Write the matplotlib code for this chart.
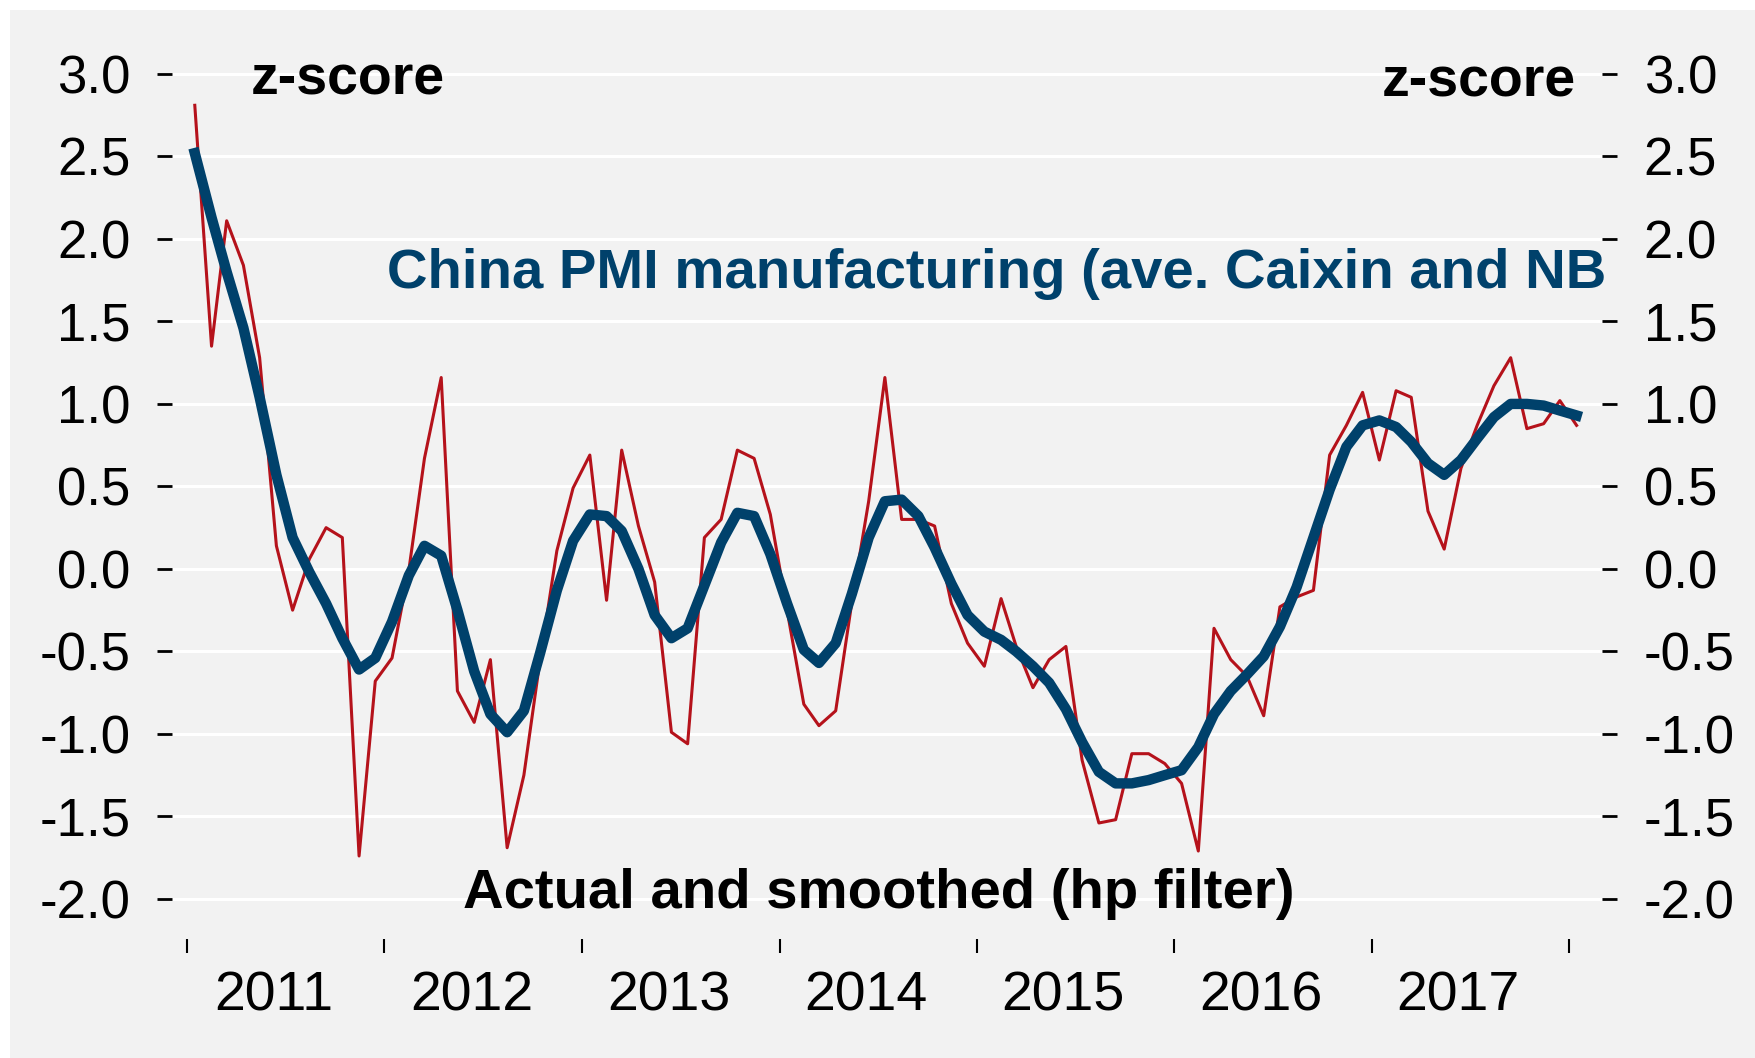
import matplotlib
matplotlib.use('Agg')
import matplotlib.pyplot as plt
import matplotlib.dates as mdates
from matplotlib.patches import Rectangle
from matplotlib.ticker import FixedLocator, FormatStrFormatter, NullFormatter
import pandas as pd

plt.rcParams['font.family'] = ['Liberation Sans', 'DejaVu Sans']
plt.rcParams['axes.unicode_minus'] = False

# monthly z-scores, Jan 2011 - Jan 2018
actual = [2.81, 1.35, 2.11, 1.84, 1.28, 0.14, -0.25, 0.06, 0.25, 0.19,
          -1.74, -0.68, -0.54, -0.01, 0.67, 1.16, -0.74, -0.93, -0.55, -1.69,
          -1.25, -0.55, 0.11, 0.49, 0.69, -0.19, 0.72, 0.26, -0.08, -0.99,
          -1.06, 0.19, 0.30, 0.72, 0.67, 0.33, -0.25, -0.82, -0.95, -0.86,
          -0.20, 0.41, 1.16, 0.30, 0.30, 0.26, -0.21, -0.45, -0.59, -0.18,
          -0.47, -0.72, -0.55, -0.47, -1.16, -1.54, -1.52, -1.12, -1.12, -1.18,
          -1.30, -1.71, -0.36, -0.55, -0.65, -0.89, -0.23, -0.17, -0.13, 0.69,
          0.87, 1.07, 0.66, 1.08, 1.04, 0.35, 0.12, 0.61, 0.87, 1.11,
          1.28, 0.85, 0.88, 1.02, 0.87]

smoothed = [2.52, 2.13, 1.80, 1.46, 1.04, 0.57, 0.19, -0.02, -0.21, -0.42,
            -0.61, -0.54, -0.32, -0.04, 0.14, 0.08, -0.25, -0.62, -0.88, -0.99,
            -0.86, -0.51, -0.13, 0.17, 0.33, 0.32, 0.23, 0.00, -0.28, -0.42,
            -0.36, -0.10, 0.16, 0.34, 0.32, 0.09, -0.21, -0.49, -0.57, -0.45,
            -0.15, 0.19, 0.41, 0.42, 0.32, 0.13, -0.09, -0.28, -0.38, -0.43,
            -0.50, -0.59, -0.69, -0.85, -1.05, -1.23, -1.30, -1.30, -1.28, -1.25,
            -1.22, -1.08, -0.88, -0.74, -0.64, -0.53, -0.35, -0.11, 0.19, 0.48,
            0.74, 0.87, 0.90, 0.86, 0.77, 0.64, 0.57, 0.66, 0.79, 0.92,
            1.00, 1.00, 0.99, 0.96, 0.93]

years = ['2011', '2012', '2013', '2014', '2015', '2016', '2017']

dates = pd.date_range('2011-01-01', periods=len(actual), freq='MS') + pd.Timedelta(days=14)

BLUE = '#00416b'
RED = '#b5121b'
BG = '#f2f2f2'

fig = plt.figure(figsize=(17.56, 10.58), dpi=100)
fig.patch.set_facecolor('white')
fig.patches.append(Rectangle((10 / 1756, 0), 1, 1048 / 1058, transform=fig.transFigure,
                             facecolor=BG, edgecolor='none', zorder=-10))

ax = fig.add_axes([0.098, 0.1125, 0.8143, 0.8488])
ax.set_facecolor('none')

ax.plot(dates, actual, color=RED, lw=2.2, zorder=3)
ax.plot(dates, smoothed, color=BLUE, lw=7.5, zorder=4, solid_joinstyle='round')

ax.set_ylim(-2.243, 3.2)
ax.set_xlim(pd.Timestamp('2010-12-04'), pd.Timestamp('2018-03-03'))

ax.set_yticks([-2.0, -1.5, -1.0, -0.5, 0.0, 0.5, 1.0, 1.5, 2.0, 2.5, 3.0])
ax.yaxis.set_major_formatter(FormatStrFormatter('%.1f'))
ax.yaxis.grid(True, color='white', lw=2.2)
ax.set_axisbelow(True)

year_ticks = [mdates.date2num(pd.Timestamp(f'{y}-01-01')) for y in range(2011, 2019)]
mid_ticks = [mdates.date2num(pd.Timestamp(f'{y}-06-10')) for y in years]
ax.xaxis.set_major_locator(FixedLocator(year_ticks))
ax.xaxis.set_major_formatter(NullFormatter())
ax.xaxis.set_minor_locator(FixedLocator(mid_ticks))
ax.set_xticklabels(years, minor=True)

for s in ax.spines.values():
    s.set_visible(False)

ax.tick_params(axis='y', which='major', left=True, right=True, labelleft=True,
               labelright=True, length=11, width=2, pad=19, labelsize=38,
               direction='out')
ax.tick_params(axis='x', which='major', length=10, width=1.5, direction='out')
ax.tick_params(axis='x', which='minor', length=0, pad=23, labelsize=40)

ax.text(pd.Timestamp('2011-04-28'), 2.96, 'z-score', fontsize=40, fontweight='bold',
        ha='left', va='center')
ax.text(pd.Timestamp('2018-01-13'), 2.95, 'z-score', fontsize=40, fontweight='bold',
        ha='right', va='center')
ax.text(pd.Timestamp('2012-01-05'), 1.79, 'China PMI manufacturing (ave. Caixin and NB',
        fontsize=40.5, fontweight='bold', color=BLUE, ha='left', va='center')
ax.text(pd.Timestamp('2014-07-04'), -1.97, 'Actual and smoothed (hp filter)',
        fontsize=40.5, fontweight='bold', ha='center', va='center')

fig.savefig('out.png', dpi=100, facecolor=fig.get_facecolor())
